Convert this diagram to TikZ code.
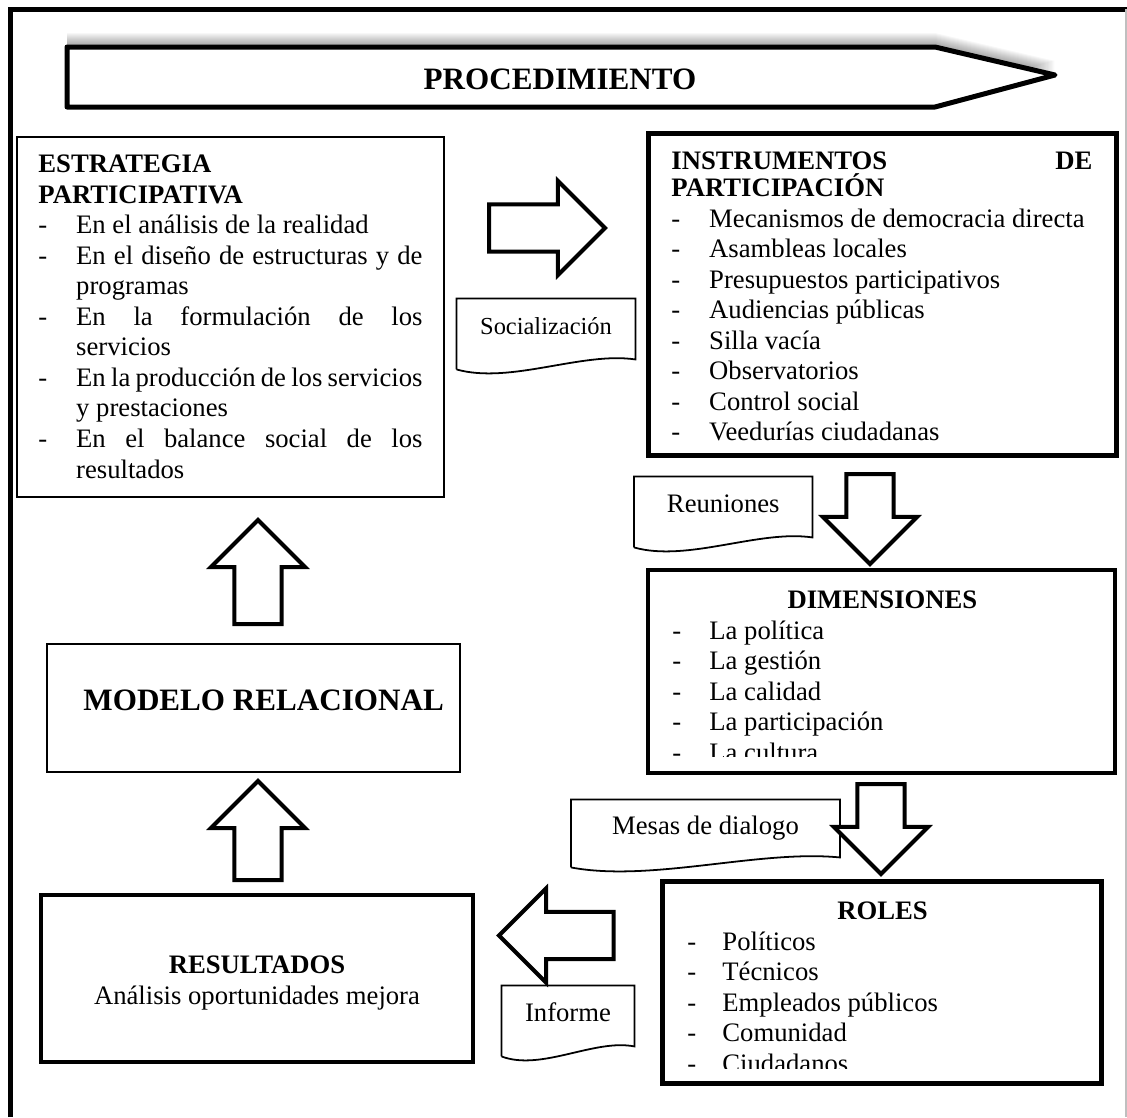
\documentclass[tikz,border=0pt]{standalone}
\usepackage{fontspec}
\setmainfont{Liberation Serif}[BoldFont={Liberation Serif Bold}]
\usetikzlibrary{shapes.arrows, fit, calc, positioning}
\setlength{\parindent}{0pt}
\hyphenpenalty=10000
\exhyphenpenalty=10000
\newcommand{\guion}[2][17pt]{\par\hangindent=#1\hangafter=1\noindent\makebox[#1][l]{-}#2}

\begin{document}
\begin{tikzpicture}[x=0.45pt, y=-0.45pt,
  caja/.style={draw, inner sep=0pt, line width=2.2pt},
  cajafina/.style={draw, inner sep=0pt, line width=1pt},
  texto/.style={inner sep=0pt, anchor=north west, align=justify, font=\fontsize{12}{13.75}\selectfont},
  nota/.style={inner sep=0pt, minimum height=27pt, text height=8pt, text depth=3pt, font=\fontsize{12}{14}\selectfont},
  flecha/.style={single arrow, draw, fill=white, line width=1.8pt, inner sep=9.7pt, minimum width=0pt, single arrow head extend=10.6pt, anchor=tail}]
  \useasboundingbox (0,0) rectangle (1127,1117);
  % marco
  \draw[line width=2.25pt] (10,1117) -- (10,9) -- (1127,9);
  \draw[black!25, line width=0.5pt] (1126,9) -- (1126,1117);

  % procedimiento
  \foreach \s in {1,...,14}
    \fill[black, opacity=0.03, yshift=\s*0.45pt] (67,47) -- (935,47) -- (1055,75) -- (935,107) -- (67,107) -- cycle;
  \draw[line width=2.25pt, line join=round, fill=white] (67,47) -- (935,47) -- (1055,75) -- (935,107) -- (67,107) -- cycle;
  \node[anchor=base, inner sep=0pt, font=\fontsize{14}{16}\selectfont\bfseries] (proc) at (560,89) {PROCEDIMIENTO};

  % cajas
  \node[cajafina, fit={(17,137) (444,497)}] (est) {};
  \node[caja, line width=2.25pt, fit={(648,133) (1116,455)}] (ins) {};
  \node[caja, fit={(648,570) (1115,773)}] (dim) {};
  \node[caja, line width=2.25pt, fit={(662,881) (1101,1083)}] (rol) {};
  \node[caja, line width=1.9pt, fit={(41,895) (473,1062)}] (res) {};
  \node[cajafina, fit={(47,644) (460,772)}] (mod) {};

  % textos
  \node[texto, text width=172.8pt] (esttxt) at (38,154.4) {
    \textbf{ESTRATEGIA}\par
    \textbf{PARTICIPATIVA}
    \guion{En el análisis de la realidad}
    \guion{En el diseño de estructuras y de\linebreak programas}
    \guion{En la formulación de los\linebreak servicios}
    \guion{En la producción de los servicios\linebreak y prestaciones}
    \guion{En el balance social de los\linebreak resultados}\par
  };
  \node[texto, text width=189.45pt] (instxt) at (671,151.4) {
    \hbox to\hsize{\textbf{INSTRUMENTOS}\hfil\textbf{DE}}\par\vspace{-1.6pt}
    \textbf{PARTICIPACIÓN}
    \guion{Mecanismos de democracia directa}
    \guion{Asambleas locales}
    \guion{Presupuestos participativos}
    \guion{Audiencias públicas}
    \guion{Silla vacía}
    \guion{Observatorios}
    \guion{Control social}
    \guion{Veedurías ciudadanas}\par
  };
  \begin{scope}
    \clip (648,570) rectangle (1115,756);
    \node[texto, text width=189pt] (dimtxt) at (672,590.4) {
      \makebox[\hsize]{\textbf{DIMENSIONES}}
      \guion[16.65pt]{La política}
      \guion[16.65pt]{La gestión}
      \guion[16.65pt]{La calidad}
      \guion[16.65pt]{La participación}
      \guion[16.65pt]{La cultura}\par
    };
  \end{scope}
  \begin{scope}
    \clip (662,881) rectangle (1101,1068);
    \node[texto, text width=175.5pt] (roltxt) at (687,901.4) {
      \makebox[\hsize]{\textbf{ROLES}}
      \guion[15.75pt]{Políticos}
      \guion[15.75pt]{Técnicos}
      \guion[15.75pt]{Empleados públicos}
      \guion[15.75pt]{Comunidad}
      \guion[15.75pt]{Ciudadanos}\par
    };
  \end{scope}
  \node[texto, align=center, anchor=north] (restxt) at (257,955.4) {\textbf{RESULTADOS}\\Análisis oportunidades mejora};
  \node[anchor=base west, inner sep=0pt, font=\fontsize{14}{16}\selectfont\bfseries] (modtxt) at (83,710) {MODELO RELACIONAL};

  % notas
  \node[nota, minimum width=80.1pt, font=\fontsize{11}{13}\selectfont] (soc) at (546,329) {Socialización};
  \node[nota, minimum width=79.9pt] (reu) at (723.25,507) {Reuniones};
  \node[nota, minimum width=120.6pt, minimum height=25.65pt] (mes) at (705.5,828.5) {Mesas de dialogo};
  \node[nota, minimum width=59.4pt] (inf) at (568,1016) {Informe};
  \foreach \n in {soc, reu, mes, inf}
    \draw[line width=0.8pt] ($(\n.south west)+(0,10)$) -- (\n.north west) -- (\n.north east) -- (\n.south east)
      .. controls ($(\n.south west)!0.7!(\n.south east)+(0,-8)$) and ($(\n.south west)!0.3!(\n.south east)+(0,25)$) .. ($(\n.south west)+(0,10)$);

  % flechas
  \node[flecha, minimum height=52.2pt] (f1) at (487,228) {};
  \node[flecha, shape border rotate=270, minimum height=40.5pt] (f2) at (870,472) {};
  \node[flecha, shape border rotate=270, minimum height=40.5pt] (f3) at (881,782) {};
  \node[flecha, shape border rotate=180, minimum height=51.6pt] (f4) at (615.6,935.5) {};
  \node[flecha, shape border rotate=90, minimum height=44.55pt] (f5) at (258,882) {};
  \node[flecha, shape border rotate=90, minimum height=46.8pt] (f6) at (258,626) {};
\end{tikzpicture}
\end{document}
